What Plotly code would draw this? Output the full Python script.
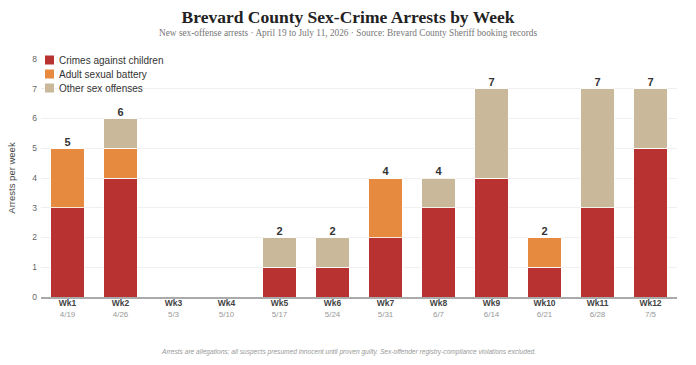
import plotly.graph_objects as go

weeks = ["Wk1", "Wk2", "Wk3", "Wk4", "Wk5", "Wk6", "Wk7", "Wk8", "Wk9", "Wk10", "Wk11", "Wk12"]
dates = ["4/19", "4/26", "5/3", "5/10", "5/17", "5/24", "5/31", "6/7", "6/14", "6/21", "6/28", "7/5"]
children = [3, 4, 0, 0, 1, 1, 2, 3, 4, 1, 3, 5]
adult = [2, 1, 0, 0, 0, 0, 2, 0, 0, 1, 0, 0]
other = [0, 1, 0, 0, 1, 1, 0, 1, 3, 0, 4, 2]
y_ticks = [0, 1, 2, 3, 4, 5, 6, 7, 8]

W, H = 696, 365
ML, MR, MT, MB = 41, 19, 59, 68
PW, PH = W - ML - MR, H - MT - MB

def px_x(px):
    return (px - ML) / PW

def px_y(py):
    return (H - MB - py) / PH

totals = [a + b + c for a, b, c in zip(children, adult, other)]
ticktext = [f"<b>{w}</b><br><span style='color:#999999;font-size:8px'>{d}</span>" for w, d in zip(weeks, dates)]

fig = go.Figure()
series = [
    ("Crimes against children", children, "#b83232"),
    ("Adult sexual battery", adult, "#e58a3f"),
    ("Other sex offenses", other, "#c9b99a"),
]
for name, vals, col in series:
    fig.add_trace(go.Bar(
        x=weeks, y=vals, name=name,
        marker=dict(color=col, line=dict(color="white", width=0.8)),
        hoverinfo="skip", showlegend=False,
    ))

fig.add_trace(go.Scatter(
    x=[w for w, t in zip(weeks, totals) if t > 0],
    y=[t for t in totals if t > 0],
    text=[str(t) for t in totals if t > 0],
    mode="text", textposition="top center",
    textfont=dict(family="Liberation Sans, Arial", size=11, color="#333333"),
    texttemplate="<b>%{text}</b>",
    showlegend=False, hoverinfo="skip", cliponaxis=False,
))

shapes = []
annotations = []
# manual compact legend
for i, (name, vals, col) in enumerate(series):
    cy = 60 + 14 * i
    shapes.append(dict(type="rect", xref="paper", yref="paper",
                       x0=px_x(45), x1=px_x(54), y0=px_y(cy + 4.5), y1=px_y(cy - 4.5),
                       fillcolor=col, line=dict(width=0), layer="above"))
    annotations.append(dict(text=name, xref="paper", yref="paper",
                            x=px_x(57), y=px_y(cy), xanchor="left", yanchor="middle",
                            showarrow=False,
                            font=dict(family="Liberation Sans, Arial", size=10, color="#333333")))

annotations.append(dict(
    text="New sex-offense arrests · April 19 to July 11, 2026 · Source: Brevard County Sheriff booking records",
    x=px_x(348), xref="paper", xanchor="center", y=px_y(33), yref="paper", yanchor="middle",
    showarrow=False,
    font=dict(family="Liberation Serif, Georgia, serif", size=9.3, color="#777777")))
annotations.append(dict(
    text="<i>Arrests are allegations; all suspects presumed innocent until proven guilty. Sex-offender registry-compliance violations excluded.</i>",
    x=px_x(348), xref="paper", xanchor="center", y=px_y(352), yref="paper", yanchor="middle",
    showarrow=False,
    font=dict(family="Liberation Sans, Arial", size=6.6, color="#999999")))

fig.update_layout(
    width=W, height=H,
    barmode="stack", bargap=0.36,
    paper_bgcolor="white", plot_bgcolor="white",
    margin=dict(l=ML, r=MR, t=MT, b=MB, autoexpand=False),
    font=dict(family="Liberation Sans, Arial", size=9, color="#555555"),
    showlegend=False,
    title=dict(
        text="<b>Brevard County Sex-Crime Arrests by Week</b>",
        x=px_x(348), xref="paper", xanchor="center", y=1 - 17 / H, yanchor="middle",
        font=dict(family="Liberation Serif, Georgia, serif", size=17.5, color="#222222"),
    ),
    xaxis=dict(
        tickmode="array", tickvals=weeks, ticktext=ticktext,
        range=[-0.5, len(weeks) - 0.5],
        tickfont=dict(family="Liberation Sans, Arial", size=8.5, color="#444444"),
        showgrid=False, showline=True, linecolor="#aaaaaa", linewidth=2,
        ticks="", fixedrange=True, automargin=False, ticklabelstandoff=-3,
    ),
    yaxis=dict(
        range=[0, 8], tickvals=y_ticks,
        showgrid=True, gridcolor="#f0f0f0", gridwidth=1,
        zeroline=False, showline=False,
        ticks="", ticklabelstandoff=3,
        tickfont=dict(size=8.5, color="#666666"),
        automargin=False,
        title=dict(text="Arrests per week", font=dict(size=9.5, color="#444444"), standoff=14),
    ),
    shapes=shapes,
    annotations=annotations,
)

fig.write_html("out.html")
